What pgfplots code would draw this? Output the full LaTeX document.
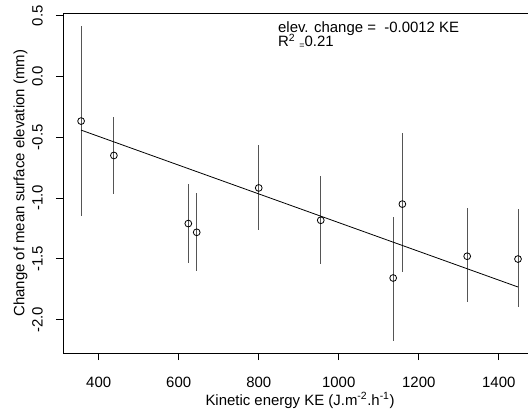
\documentclass[border=0pt]{standalone}
\usepackage{fontspec}
\setmainfont{Liberation Sans}
\usepackage{pgfplots}
\usepackage{pgfplotstable}
\pgfplotsset{compat=1.18}
\definecolor{errgray}{RGB}{85,85,85}
\pgfplotstableread{
x y ep em
356 -0.367 0.785 0.783
438 -0.650 0.313 0.319
624 -1.210 0.324 0.325
645 -1.282 0.324 0.315
800 -0.917 0.352 0.348
955 -1.183 0.363 0.362
1136 -1.658 0.500 0.516
1159 -1.050 0.581 0.559
1321 -1.479 0.399 0.379
1448 -1.502 0.412 0.395
}\data
\begin{document}
\fontsize{15}{17}\selectfont
\begin{tikzpicture}
\begin{axis}[
  at={(0,0)}, anchor=south west, scale only axis,
  width=465bp, height=339.5bp,
  xmin=310.8, xmax=1473, ymin=-2.275, ymax=0.518,
  clip=false,
  axis line style={draw=none},
  xtick={400,600,800,1000,1200,1400},
  xticklabels={400,600,800,1000,1200,1400},
  ytick={-2,-1.5,-1,-0.5,0,0.5},
  yticklabels={-2.0,-1.5,-1.0,-0.5,0.0,0.5},
  xtick pos=bottom, ytick pos=left,
  tick align=outside, major tick length=7bp,
  tick style={black, line width=0.8bp},
  xticklabel style={anchor=base},
  yticklabel style={rotate=90, anchor=base},
  xticklabel shift=27bp, yticklabel shift=13.3bp,
  every axis x label/.style={at={(axis description cs:0.5097,0)}, anchor=base, yshift=-52bp},
  every axis y label/.style={at={(axis description cs:0,0.5)}, xshift=-38.5bp, rotate=90, anchor=base},
  xlabel={Kinetic energy KE (J.m\textsuperscript{-2}.h\textsuperscript{-1})},
  ylabel={Change of mean surface elevation (mm)},
]
\addplot[only marks, mark=o, mark size=3.4bp, black, mark options={fill=white, line width=0.8bp},
  error bars/.cd, y dir=both, y explicit, error mark=none,
  error bar style={errgray, line width=0.9bp}]
  table[x=x, y=y, y error plus=ep, y error minus=em] {\data};
\addplot[black, line width=0.8bp] coordinates {(355.8,-0.441) (1448,-1.732)};
\node[anchor=base west, inner sep=0] at (axis cs:848,0.363) {elev. change =\ \ -0.0012 KE};
\node[anchor=base west, inner sep=0] at (axis cs:848,0.245) {R\textsuperscript{2} \raisebox{-2bp}{\small =}0.21};
\draw[black, line width=0.8bp] (rel axis cs:1.1,1) -- (rel axis cs:0,1) -- (rel axis cs:0,0) -- (rel axis cs:1.1,0);
\end{axis}
\pgfresetboundingbox
\path[use as bounding box] (-63bp,-60bp) rectangle (465bp,353bp);
\end{tikzpicture}
\end{document}
